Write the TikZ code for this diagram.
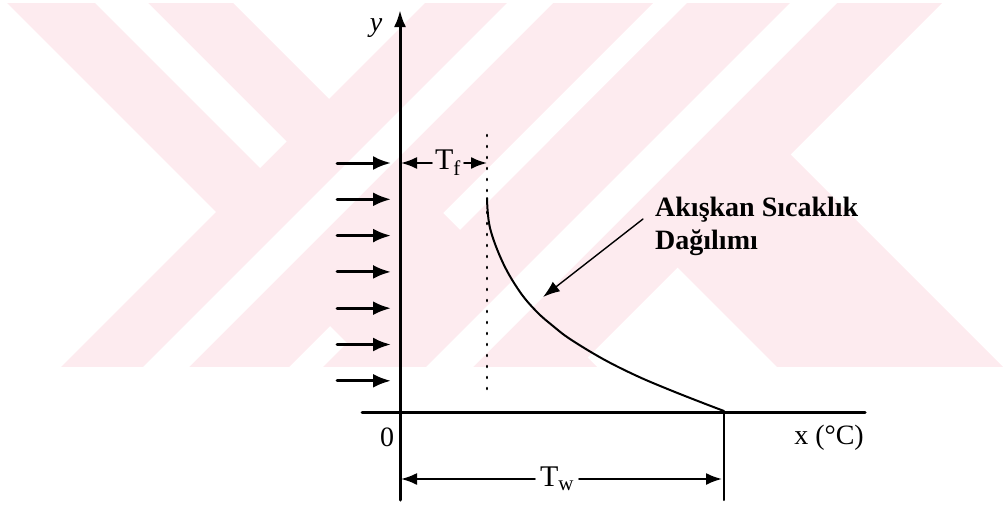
\documentclass[tikz,border=0pt]{standalone}
\usepackage{fontspec}
\setmainfont{Liberation Serif}
\usepackage{tikz}
\usetikzlibrary{arrows.meta}
\definecolor{wmpink}{RGB}{253,235,239}
\tikzset{
  every picture/.style={line join=round, line cap=round, >=Stealth},
  axis/.style={line width=3pt},
  flow/.style={line width=3pt, -{Latex[length=18pt,width=14pt]}},
  dimline/.style={line width=2pt, -{Latex[length=16pt,width=12pt]}},
  dotline/.style={line width=2.6pt, dash pattern=on 1pt off 10pt},
  lbl/.style={font=\fontsize{28}{33}\selectfont, inner sep=2pt},
}

\begin{document}
\begin{tikzpicture}[x=1pt,y=-1pt]
\useasboundingbox (0,0) rectangle (1003,506);
\begin{scope}
\clip (0,3) rectangle (1003,366);
\fill[wmpink] (-96,-100) -- (504,500) -- (730,500) -- (130,-100) -- cycle;
\fill[wmpink] (528,-100) -- (-72,500) -- (156,500) -- (756,-100) -- cycle;
\fill[wmpink] (790,-100) -- (190,500) -- (445,500) -- (1045,-100) -- cycle;
\fill[wmpink] (550,140) -- (910,500) -- (1136,500) -- (663,27) -- cycle;
\fill[white] (-10,-102) -- (260,168) -- (286.5,141.5) -- (45,-100) -- cycle;
\fill[white] (610,-100) -- (10,500) -- (56,500) -- (656,-100) -- cycle;
\fill[white] (893,-100) -- (293,500) -- (340,500) -- (940,-100) -- cycle;
\end{scope}
\coordinate (O) at (400,412);
\coordinate (ytop) at (400,10);
\coordinate (ybot) at (400,500);
\coordinate (xl) at (362,412);
\coordinate (xr) at (865,412);
\coordinate (tw) at (724,412);
\coordinate (twb) at (724,500);
\draw[axis,-{Latex[length=17pt,width=12pt]}] (ybot) -- (ytop);
\draw[axis] (xl) -- (xr);
\draw[line width=2pt] (tw) -- (twb);
\node[lbl] (ylab) at (376,28) {\textit{y}};
\node[lbl] (zero) at (387,437) {0};
\node[lbl] (xlab) at (829,438) {x (°C)};
\foreach \i in {0,...,6}{
  \coordinate (fa\i) at (337,163+36.3*\i);
  \coordinate (fb\i) at (391,163+36.3*\i);
  \draw[flow] (fa\i) -- (fb\i);
}
\coordinate (dtop) at (487,135);
\coordinate (dbot) at (487,390);
\draw[dotline] (dtop) -- (dbot);
\node[lbl,font=\fontsize{30}{30}\selectfont,inner sep=3pt] (Tf) at (448,163) {T\textsubscript{f}};
\coordinate (tfl) at (401,163);
\coordinate (tfr) at (487,163);
\draw[dimline] (Tf) -- (tfl);
\draw[dimline] (Tf) -- (tfr);
\node[lbl,font=\fontsize{30}{30}\selectfont,inner sep=5pt] (Tw) at (557,479) {T\textsubscript{w}};
\coordinate (twl) at (401,479);
\coordinate (twr) at (722,479);
\draw[dimline] (Tw) -- (twl);
\draw[dimline] (Tw) -- (twr);
\draw[line width=2pt] plot[smooth,tension=0.6] coordinates {(487,198) (490,228) (503,263) (520,292) (537,312) (553,326) (570,339) (603,359) (637,376) (670,390) (703,403) (724,411)};
\node[lbl,font=\bfseries\fontsize{28}{33}\selectfont,align=left,anchor=north west,inner sep=0pt] (fluid) at (655,197) {Akışkan Sıcaklık\\Dağılımı};
\coordinate (pfrom) at (643,219);
\coordinate (ptip) at (543,297);
\draw[line width=1.4pt,-{Latex[length=17pt,width=12pt]}] (pfrom) -- (ptip);
\end{tikzpicture}
\end{document}
